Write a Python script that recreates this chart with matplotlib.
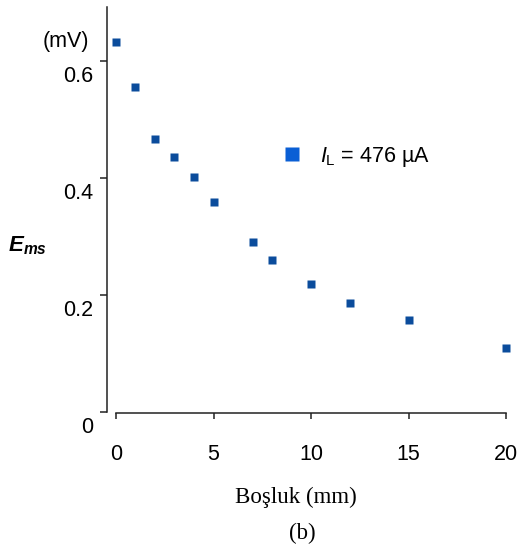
import matplotlib
matplotlib.use("Agg")
import matplotlib.pyplot as plt
import matplotlib.transforms as mtransforms
from matplotlib.lines import Line2D

# Data
gap_mm = [0, 1, 2, 3, 4, 5, 7, 8, 10, 12, 15, 20]
e_ms = [0.633, 0.555, 0.467, 0.436, 0.401, 0.359, 0.291, 0.260, 0.218, 0.186, 0.158, 0.110]
x_ticks = [0, 5, 10, 15, 20]
y_ticks = [0, 0.2, 0.4, 0.6]
y_tick_labels = ["0", "0.2", "0.4", "0.6"]
legend_label = r"$I_\mathrm{L}$ = 476 µA"

plt.rcParams['font.family'] = ['Liberation Sans', 'DejaVu Sans']
plt.rcParams['mathtext.fontset'] = 'custom'
plt.rcParams['mathtext.rm'] = 'Liberation Sans'
plt.rcParams['mathtext.it'] = 'Liberation Sans:italic'
plt.rcParams['mathtext.bf'] = 'Liberation Sans:italic:bold'

W, H = 517, 551
fig = plt.figure(figsize=(W / 100, H / 100), dpi=100)

# axes box in pixels: left 107, right 510, bottom 413, top 7
ax = fig.add_axes([107 / W, 1 - 413 / H, (510 - 107) / W, (413 - 7) / H])
ax.set_xlim(-0.46, 20.2)
ax.set_ylim(-0.0017, 0.692)

ax.plot(gap_mm, e_ms, linestyle='none', marker='s', ms=5.8,
        color='#0b4c9c', mec='none', clip_on=False)

for s in ['top', 'right']:
    ax.spines[s].set_visible(False)
ax.spines['left'].set_bounds(0, 0.692)
ax.spines['bottom'].set_bounds(0, 20)
for s in ['left', 'bottom']:
    ax.spines[s].set_linewidth(1.1)
    ax.spines[s].set_color('#222222')

ax.set_xticks(x_ticks)
ax.set_yticks(y_ticks)
ax.set_yticklabels(y_tick_labels)
ax.tick_params(axis='x', direction='out', length=4, width=1.1, pad=18,
               labelsize=15.5, color='#222222')
ax.tick_params(axis='y', direction='out', length=5, width=1.1, pad=5,
               labelsize=15.5, color='#222222')

# y tick labels sit below their ticks in the original
shift = mtransforms.ScaledTranslation(0, -0.13, fig.dpi_scale_trans)
for lbl in ax.get_yticklabels():
    lbl.set_transform(lbl.get_transform() + shift)

# legend
handle = Line2D([], [], linestyle='none', marker='s', ms=10.5,
                color='#0a5fd5', mec='none')
ax.legend([handle], [legend_label], loc='center left',
          bbox_to_anchor=(270 / W, 1 - 157 / H), bbox_transform=fig.transFigure,
          frameon=False, fontsize=15.5, borderpad=0, handlelength=1.0,
          handletextpad=0.8)

# axis texts
fig.text(66 / W, 1 - 41 / H, "(mV)", ha='center', va='center', fontsize=15.5)
fig.text(27 / W, 1 - 246 / H, r"$\mathbf{E}_{\mathbf{ms}}$", ha='center',
         va='center', fontsize=16)
fig.text(296 / W, 1 - 497 / H, "Boşluk (mm)", ha='center', va='center',
         fontsize=16.5, family='Liberation Serif')
fig.text(302 / W, 1 - 533 / H, "(b)", ha='center', va='center',
         fontsize=16.5, family='Liberation Serif')

fig.savefig("out.png", dpi=100)
